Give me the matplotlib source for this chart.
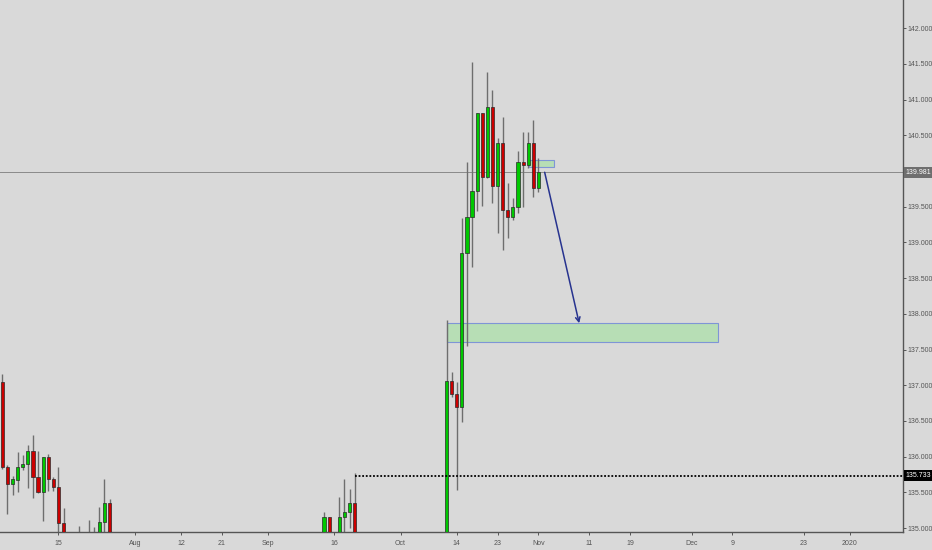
import matplotlib
matplotlib.use("Agg")
import matplotlib.pyplot as plt
from matplotlib.patches import Rectangle

# Candles (bar index, open, high, low, close); bars fully below 135 are not shown
bar_idx = [0, 1, 2, 3, 4, 5, 6, 7, 8, 9, 10, 11, 12, 15, 17, 18, 19, 20, 21,
           63, 64, 66, 67, 68, 69,
           87, 88, 89, 90, 91, 92, 93, 94, 95, 96, 97, 98, 99, 100, 101, 102, 103, 104, 105]
opens = [137.05, 135.85, 135.62, 135.67, 135.85, 135.89, 136.08, 135.72, 135.51, 135.99, 135.68, 135.57, 135.07,
         134.70, 134.60, 134.80, 134.70, 135.09, 135.35,
         134.80, 135.15, 134.70, 135.15, 135.22, 135.35,
         133.00, 137.06, 136.87, 136.69, 138.85, 139.35, 139.72, 140.81, 139.92, 140.90,
         139.79, 140.39, 139.46, 139.35, 139.50, 140.12, 140.08, 140.39, 139.76]
highs = [137.16, 135.88, 135.73, 136.06, 136.02, 136.16, 136.30, 136.08, 136.00, 136.04, 135.71, 135.86, 135.28,
         135.03, 135.11, 135.01, 135.30, 135.69, 135.40,
         135.23, 135.15, 135.44, 135.68, 135.54, 135.77,
         137.91, 137.19, 137.05, 139.34, 140.12, 141.52, 140.81, 140.81, 141.39, 141.13,
         140.46, 140.76, 139.83, 139.62, 140.28, 140.55, 140.55, 140.71, 140.18]
lows = [135.82, 135.20, 135.46, 135.50, 135.81, 135.56, 135.42, 135.49, 135.10, 135.52, 135.52, 134.80, 134.50,
        134.40, 134.40, 134.50, 134.50, 134.90, 134.50,
        134.60, 134.60, 134.60, 134.90, 135.00, 134.60,
        132.90, 136.84, 135.53, 136.48, 137.55, 138.66, 139.44, 139.51, 139.90, 139.55,
        139.13, 138.90, 139.06, 139.31, 139.41, 139.49, 140.04, 139.64, 139.71]
closes = [135.85, 135.62, 135.68, 135.85, 135.89, 136.08, 135.71, 135.51, 135.99, 135.68, 135.57, 135.07, 134.70,
          134.60, 134.80, 134.70, 135.09, 135.35, 134.60,
          135.15, 134.70, 135.15, 135.22, 135.35, 134.70,
          137.06, 136.87, 136.69, 138.85, 139.35, 139.72, 140.81, 139.92, 140.90, 139.79,
          140.39, 139.46, 139.35, 139.50, 140.12, 140.08, 140.39, 139.76, 139.981]

# x-axis ticks (bar index, label)
tick_idx = [11, 26, 35, 43, 52, 65, 78, 89, 97, 105, 115, 123, 135, 143, 157, 166]
tick_lbl = ["15", "Aug", "12", "21", "Sep", "16", "Oct", "14", "23", "Nov", "11", "19", "Dec", "9", "23", "2020"]
# 140.000 is hidden behind the last-price label
price_ticks = [135.0, 135.5, 136.0, 136.5, 137.0, 137.5, 138.0, 138.5, 139.0, 139.5, 140.5, 141.0, 141.5, 142.0]

last_price = 139.981
level_price = 135.733
level_start = 69

# drawings
zone_big = [87, 140.2, 137.60, 137.867]     # x0, x1, y0, y1
zone_small = [103.2, 108.1, 140.06, 140.154]
arrow_from = (106.1, 140.02)
arrow_to = (113.1, 137.83)

bg = "#d9d9d9"
fig = plt.figure(figsize=(9.32, 5.5), dpi=100, facecolor=bg)
ax = fig.add_axes([0, 18 / 550, 903 / 932, 532 / 550], facecolor=bg)

xmin, xmax = -0.45, 176.4
ax.set_xlim(xmin, xmax)
ax.set_ylim(134.944, 142.395)

# price line
ax.axhline(last_price, color="#8a8a8a", lw=0.7, zorder=1)

# candles
for i, o, h, l, c in zip(bar_idx, opens, highs, lows, closes):
    ax.vlines(i, l, h, color="#6e6e6e", lw=1.0, zorder=2)
    col = "#00c800" if c >= o else "#cc0000"
    ax.bar(i, c - o, bottom=o, width=0.62, color=col, edgecolor="#2a2a2a", lw=0.5, zorder=3)

# dotted level
ax.hlines(level_price, level_start, xmax, colors="black", linestyles=(0, (1, 1)), lw=1.3, zorder=4)

# zones
for z in (zone_big, zone_small):
    ax.add_patch(Rectangle((z[0], z[2]), z[1] - z[0], z[3] - z[2], facecolor="#b7deb5",
                           edgecolor="#7f95d6", lw=0.8, zorder=1.5))

ax.annotate("", xy=arrow_to, xytext=arrow_from,
            arrowprops=dict(arrowstyle="->", color="#27338f", lw=1.1, mutation_scale=8), zorder=5)

# axes styling
for s in ("left", "top"):
    ax.spines[s].set_visible(False)
for s in ("right", "bottom"):
    ax.spines[s].set_color("#555555")
    ax.spines[s].set_linewidth(1.0)

fam = ["Liberation Sans", "DejaVu Sans"]
fs = 5.0
ax.yaxis.tick_right()
ax.set_yticks(price_ticks)
ax.set_yticklabels(["%.3f" % p for p in price_ticks], fontsize=fs, color="#555555", family=fam)
ax.tick_params(axis="y", direction="out", length=2.5, width=0.7, color="#555555", pad=1)
ax.set_xticks(tick_idx)
ax.set_xticklabels(tick_lbl, fontsize=fs, color="#555555", family=fam)
ax.tick_params(axis="x", direction="out", length=2.5, width=0.7, color="#555555", pad=3)

# price labels on the axis
ax.text(1.003, last_price, "%.3f" % last_price, transform=ax.get_yaxis_transform(), ha="left", va="center",
        fontsize=fs, color="white", family=fam, clip_on=False,
        bbox=dict(boxstyle="square,pad=0.3", fc="#6f6f6f", ec="none"))
ax.text(1.003, level_price, "%.3f" % level_price, transform=ax.get_yaxis_transform(), ha="left", va="center",
        fontsize=fs, color="white", family=fam, clip_on=False,
        bbox=dict(boxstyle="square,pad=0.3", fc="black", ec="none"))

fig.savefig("out.png", dpi=100, facecolor=bg)
